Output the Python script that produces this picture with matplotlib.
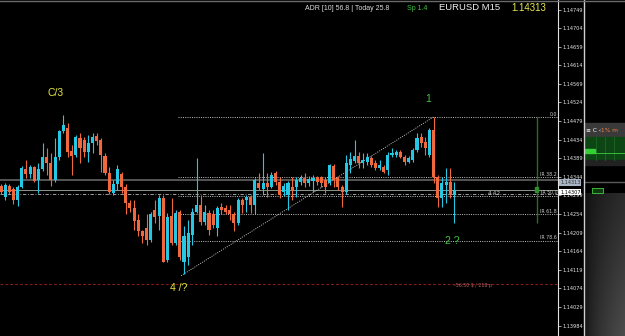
import matplotlib.pyplot as plt
import numpy as np
from matplotlib.lines import Line2D
from matplotlib.patches import Rectangle

# --- EURUSD M15 candles, prices in points (1e-5) ---
OPEN_PTS = [
    114322, 114296, 114322, 114315, 114289, 114320, 114364, 114351, 114368, 114337,
    114364, 114392, 114378, 114337, 114392, 114455, 114462, 114407, 114397, 114438,
    114433, 114404, 114426, 114443, 114433, 114395, 114354, 114305, 114327, 114351,
    114320, 114281, 114269, 114240, 114212, 114221, 114192, 114265, 114250, 114293,
    114144, 114250, 114185, 114260, 114137, 114151, 114204, 114260, 114277, 114236,
    114257, 114253, 114221, 114272, 114269, 114265, 114255, 114233, 114289, 114289,
    114296, 114277, 114330, 114315, 114330, 114320, 114354, 114332, 114308, 114301,
    114320, 114320, 114332, 114342, 114330, 114334, 114344, 114344, 114337, 114330,
    114371, 114342, 114320, 114308, 114373, 114383, 114395, 114378, 114380, 114390,
    114378, 114366, 114368, 114361, 114397, 114397, 114404, 114392, 114380, 114385,
    114409, 114441, 114429, 114397, 114457, 114344, 114293, 114325, 114332, 114301,
]
HIGH_PTS = [
    114327, 114330, 114327, 114320, 114325, 114371, 114385, 114373, 114371, 114378,
    114426, 114414, 114402, 114438, 114457, 114493, 114474, 114421, 114445, 114450,
    114441, 114445, 114450, 114450, 114438, 114402, 114368, 114337, 114373, 114356,
    114327, 114289, 114289, 114253, 114216, 114253, 114260, 114289, 114301, 114301,
    114257, 114293, 114265, 114265, 114224, 114240, 114269, 114390, 114301, 114277,
    114265, 114265, 114274, 114281, 114277, 114277, 114260, 114293, 114293, 114301,
    114301, 114342, 114354, 114402, 114354, 114356, 114359, 114344, 114330, 114334,
    114344, 114344, 114349, 114354, 114347, 114349, 114347, 114347, 114344, 114376,
    114376, 114347, 114325, 114397, 114404, 114433, 114404, 114402, 114402, 114395,
    114385, 114385, 114373, 114404, 114414, 114409, 114409, 114397, 114395, 114414,
    114450, 114450, 114441, 114462, 114489, 114349, 114344, 114366, 114366, 114332,
]
LOW_PTS = [
    114303, 114289, 114303, 114279, 114274, 114318, 114342, 114342, 114332, 114305,
    114359, 114349, 114322, 114332, 114385, 114450, 114392, 114349, 114392, 114378,
    114392, 114380, 114402, 114421, 114356, 114349, 114303, 114301, 114313, 114305,
    114253, 114260, 114216, 114200, 114185, 114180, 114187, 114233, 114216, 114137,
    114139, 114180, 114180, 114144, 114108, 114132, 114180, 114257, 114228, 114228,
    114204, 114221, 114200, 114253, 114253, 114240, 114212, 114228, 114257, 114260,
    114257, 114253, 114313, 114301, 114296, 114318, 114325, 114293, 114298, 114265,
    114289, 114296, 114325, 114320, 114322, 114308, 114325, 114320, 114305, 114325,
    114320, 114313, 114272, 114303, 114354, 114378, 114366, 114366, 114373, 114368,
    114361, 114361, 114354, 114349, 114392, 114392, 114390, 114373, 114378, 114380,
    114404, 114417, 114397, 114392, 114330, 114272, 114272, 114281, 114293, 114233,
]
CLOSE_PTS = [
    114308, 114325, 114308, 114289, 114320, 114366, 114351, 114368, 114334, 114364,
    114392, 114378, 114337, 114392, 114455, 114469, 114404, 114395, 114441, 114414,
    114404, 114426, 114441, 114431, 114397, 114354, 114308, 114327, 114364, 114320,
    114281, 114269, 114238, 114212, 114202, 114192, 114253, 114248, 114293, 114139,
    114248, 114185, 114257, 114149, 114200, 114209, 114260, 114277, 114236, 114260,
    114216, 114228, 114269, 114265, 114260, 114253, 114233, 114289, 114277, 114296,
    114277, 114337, 114318, 114330, 114320, 114349, 114332, 114301, 114322, 114330,
    114313, 114337, 114342, 114330, 114339, 114342, 114332, 114330, 114320, 114373,
    114337, 114320, 114308, 114378, 114388, 114395, 114378, 114385, 114392, 114373,
    114366, 114373, 114356, 114397, 114402, 114404, 114392, 114380, 114390, 114409,
    114438, 114426, 114414, 114457, 114344, 114293, 114330, 114332, 114301, 114313,
]

PRICE_TICKS = [1.14749, 1.14704, 1.14659, 1.14614, 1.14569, 1.14524, 1.14479,
               1.14434, 1.14389, 1.14344, 1.14299, 1.14254, 1.14209, 1.14164,
               1.14119, 1.14074, 1.14029, 1.13984]

# fibo retracement (low -> high) and its levels
FIB_LOW, FIB_HIGH = 1.14108, 1.14489
FIB_LOW_IDX, FIB_HIGH_IDX = 44, 104
FIB_LEVELS = [0.0, 38.2, 50.0, 61.8, 78.6]
FIB_NAMES = ["0.0", "IR 38.2", "IR 50.0", "IR 61.8", "IR 78.6"]
RANGE_BAR_LOW = 1.14232  # bottom of the green vertical range bar

ASK_LINE = 1.14337
BID = 1.14313
PIVOT_LINE = 1.14303
STOP_LINE = 1.14086

# wave labels: (text, candle index, price, colour)
WAVE_LABELS = [("C/3", 13.2, 1.14547, "#e6e63c"),
               ("1", 102.6, 1.14532, "#3fc43f"),
               ("4 /?", 42.8, 1.14075, "#e6e63c"),
               ("2 ?", 108.4, 1.14190, "#3fc43f")]

BULL = "#25c8e4"
BEAR = "#f0683c"

W, H = 625, 336


def fx(px):
    return px / W


def fy(py):
    return 1 - py / H


opens = np.array(OPEN_PTS) / 1e5
highs = np.array(HIGH_PTS) / 1e5
lows = np.array(LOW_PTS) / 1e5
closes = np.array(CLOSE_PTS) / 1e5
idx = np.arange(len(opens))
colors = [BULL if c >= o else BEAR for o, c in zip(opens, closes)]

fig = plt.figure(figsize=(6.25, 3.36), dpi=100, facecolor="black")
ax = fig.add_axes([0, 0, fx(558), 1])
ax.set_facecolor("black")
ax.set_xlim(-0.24, 133.9)
ax.set_ylim(1.13959, 1.14772)

# --- horizontal lines under the candles ---
ax.axhline(ASK_LINE, color="#5c5c5c", lw=1.3, zorder=1)
ax.axhline(BID, color="#9fb09f", lw=0.6, zorder=1)
ax.axhline(PIVOT_LINE, color="#b8b8b8", lw=0.6, ls=(0, (4, 2, 1, 2)), zorder=1)
ax.axhline(STOP_LINE, color="#8a1c1c", lw=0.7, ls=(0, (3, 2)), zorder=1)
ax.text(113.5, STOP_LINE - 0.00004, "-56.50 $ / 218 p", color="#b86060",
        fontsize=3.4, ha="center", va="center", family="DejaVu Sans")

# --- fibo ---
rng = FIB_HIGH - FIB_LOW
for lvl, name in zip(FIB_LEVELS, FIB_NAMES):
    p = FIB_HIGH - lvl / 100 * rng
    ax.plot([42.5, 133.7], [p, p], color="#d8d8d8", lw=0.6, ls=(0, (1.2, 1.5)), zorder=2)
    ax.text(133.7, p + 0.00001, name, color="#c8c8c8", fontsize=3.4,
            ha="right", va="bottom", family="DejaVu Sans")
ax.plot([FIB_LOW_IDX - 0.7, FIB_HIGH_IDX], [FIB_LOW - 0.00003, FIB_HIGH],
        color="#d8d8d8", lw=0.6, ls=(0, (1.2, 1.5)), zorder=2)
ax.vlines(128.8, RANGE_BAR_LOW, FIB_HIGH, color="#2e6a2e", lw=1.0, zorder=2)
ax.add_patch(Rectangle((128.4, BID - 0.00006), 0.8, 0.00012, color="#2f8f2f", zorder=3))
ax.text(118.5, PIVOT_LINE, "4.42", color="#bdbdbd", fontsize=4.3,
        ha="center", va="center", family="DejaVu Sans")

# --- candles ---
ax.vlines(idx, lows, highs, colors=colors, lw=0.8, zorder=4)
heights = closes - opens
heights = np.where(np.abs(heights) < 0.00002, 0.00002, heights)
ax.bar(idx, heights, bottom=opens, width=0.74, color=colors, linewidth=0, zorder=5)

for text, xi, p, col in WAVE_LABELS:
    ax.text(xi, p, text, color=col, fontsize=7.5, ha="center", va="center",
            family="Liberation Sans")

# --- price scale ---
for s in ["top", "left", "bottom"]:
    ax.spines[s].set_visible(False)
ax.spines["right"].set_color("#e0e0e0")
ax.spines["right"].set_linewidth(0.8)
ax.set_xticks([])
ax.yaxis.tick_right()
ax.set_yticks(PRICE_TICKS)
ax.set_yticklabels([f"{t:.5f}" for t in PRICE_TICKS])
ax.tick_params(axis="y", colors="#e8e8e8", labelsize=3.6, length=2, width=0.5, pad=1.5)

tr = ax.get_yaxis_transform()
ax.text(1.004, 1.14331, "1.14313", transform=tr, fontsize=3.6, color="#303030",
        va="center", ha="left", clip_on=False,
        bbox=dict(boxstyle="square,pad=0.15", fc="#a8b4c4", ec="none"))
ax.text(1.004, 1.14307, "1.14307", transform=tr, fontsize=3.6, color="black",
        va="center", ha="left", clip_on=False,
        bbox=dict(boxstyle="square,pad=0.15", fc="white", ec="none"))

# --- header ---
fig.text(fx(305), fy(8), "ADR [10] 56.8 | Today 25.8", color="#dcdcdc",
         fontsize=5, va="center", family="Liberation Sans")
fig.text(fx(407), fy(8), "Sp 1.4", color="#3fc43f", fontsize=5, va="center",
         family="Liberation Sans")
fig.text(fx(439), fy(8), "EURUSD M15", color="#f0f0f0", fontsize=6.8, va="center",
         family="Liberation Sans")
fig.text(fx(511), fy(8), "1.14313", color="#e8e850", fontsize=7, va="center",
         family="Liberation Sans")

# --- right side panel ---
rp = fig.add_axes([fx(584), 0, fx(41), 1])
rp.set_xlim(0, 41)
rp.set_ylim(336, 0)
rp.axis("off")
rp.set_facecolor("black")
gx = np.linspace(0, 1, 60)
gy = np.linspace(0, 1, 60)
grad = 0.04 + 0.26 * np.sqrt(gx[None, :]) * (0.5 + 0.5 * gy[:, None])
rp.imshow(grad, extent=[0, 41, 336, 193], cmap="gray", vmin=0, vmax=1,
          aspect="auto", zorder=0)
rp.add_patch(Rectangle((0, 123), 41, 14, color="#3a3a3a", zorder=1))
rp.add_patch(Rectangle((0, 137), 41, 23, color="#0d4515", zorder=1))
for vx in [12, 21, 30]:
    rp.plot([vx, vx], [137, 160], color="#1c6a24", lw=0.6, zorder=2)
rp.add_patch(Rectangle((1, 149), 10, 4, color="#35d035", zorder=2))
rp.plot([11, 41], [153, 153], color="#3ccc3c", lw=0.6, zorder=2)
rp.add_patch(Rectangle((0, 160), 41, 5, color="#222222", zorder=1))
rp.plot([0, 41], [182, 182], color="#5a5a5a", lw=1.0, zorder=2)
rp.add_patch(Rectangle((8, 188), 11, 5, fc="#0e3a0e", ec="#40d040", lw=0.6, zorder=2))
rp.text(1.5, 130, "≡ C ‹", color="white", fontsize=4.2, va="center",
        family="DejaVu Sans", zorder=3)
rp.text(17, 130, "1% m", color="#f08040", fontsize=4.2, va="center",
        family="DejaVu Sans", zorder=3)

fig.add_artist(Line2D([fx(583.5)] * 2, [0, 1], color="#d0d0d0", lw=1.0))
fig.add_artist(Line2D([0, 1], [fy(0.5)] * 2, color="#6a6a6a", lw=1.0))

fig.savefig("out.png", dpi=100, facecolor="black")
